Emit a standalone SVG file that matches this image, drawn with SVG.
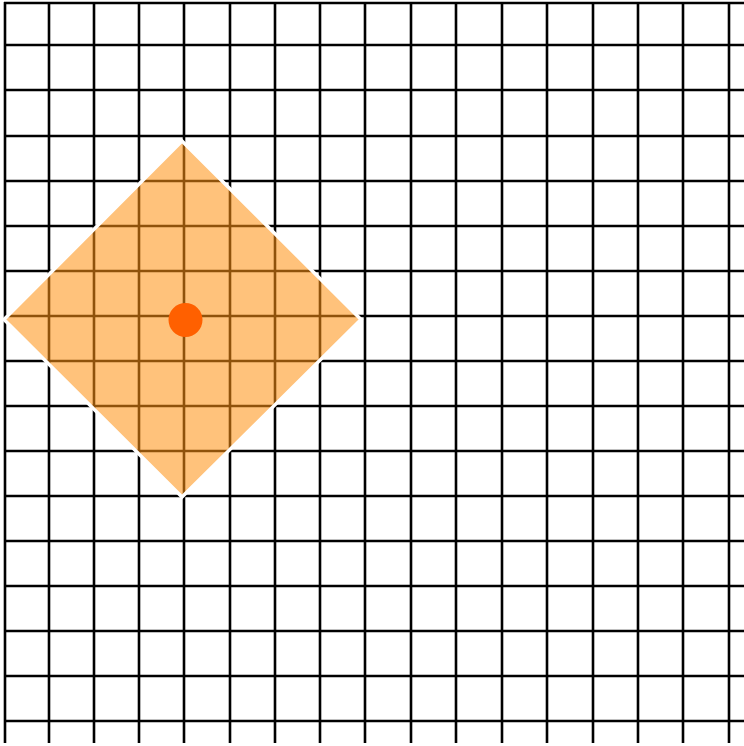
<svg xmlns="http://www.w3.org/2000/svg" width="744" height="746" viewBox="0 0 744 746">
<style>
.g line{stroke:#000;stroke-width:2.6}
</style>
<rect width="744" height="746" fill="#fff"/>
<g id="grid" class="g">
<line x1="5" y1="2" x2="5" y2="743"/>
<line x1="49" y1="2" x2="49" y2="743"/>
<line x1="94" y1="2" x2="94" y2="743"/>
<line x1="139" y1="2" x2="139" y2="743"/>
<line x1="184" y1="2" x2="184" y2="743"/>
<line x1="230" y1="2" x2="230" y2="743"/>
<line x1="275" y1="2" x2="275" y2="743"/>
<line x1="320" y1="2" x2="320" y2="743"/>
<line x1="365" y1="2" x2="365" y2="743"/>
<line x1="411" y1="2" x2="411" y2="743"/>
<line x1="456" y1="2" x2="456" y2="743"/>
<line x1="502" y1="2" x2="502" y2="743"/>
<line x1="547" y1="2" x2="547" y2="743"/>
<line x1="593" y1="2" x2="593" y2="743"/>
<line x1="638" y1="2" x2="638" y2="743"/>
<line x1="683" y1="2" x2="683" y2="743"/>
<line x1="729" y1="2" x2="729" y2="743"/>
<line x1="4" y1="3" x2="744" y2="3"/>
<line x1="4" y1="45" x2="744" y2="45"/>
<line x1="4" y1="90" x2="744" y2="90"/>
<line x1="4" y1="136" x2="744" y2="136"/>
<line x1="4" y1="181" x2="744" y2="181"/>
<line x1="4" y1="226" x2="744" y2="226"/>
<line x1="4" y1="271" x2="744" y2="271"/>
<line x1="4" y1="316" x2="744" y2="316"/>
<line x1="4" y1="361" x2="744" y2="361"/>
<line x1="4" y1="406" x2="744" y2="406"/>
<line x1="4" y1="451" x2="744" y2="451"/>
<line x1="4" y1="496" x2="744" y2="496"/>
<line x1="4" y1="541" x2="744" y2="541"/>
<line x1="4" y1="586" x2="744" y2="586"/>
<line x1="4" y1="631" x2="744" y2="631"/>
<line x1="4" y1="676" x2="744" y2="676"/>
<line x1="4" y1="721" x2="744" y2="721"/>
</g>
<g id="diamond">
<polygon points="182,141 361,319.5 182,497 4,319.5" fill="#FF9214" fill-opacity="0.56" stroke="#fff" stroke-width="3.5"/>
</g>
<g id="center">
<circle cx="185.5" cy="320" r="17" fill="#FF6000"/>
</g>
</svg>
